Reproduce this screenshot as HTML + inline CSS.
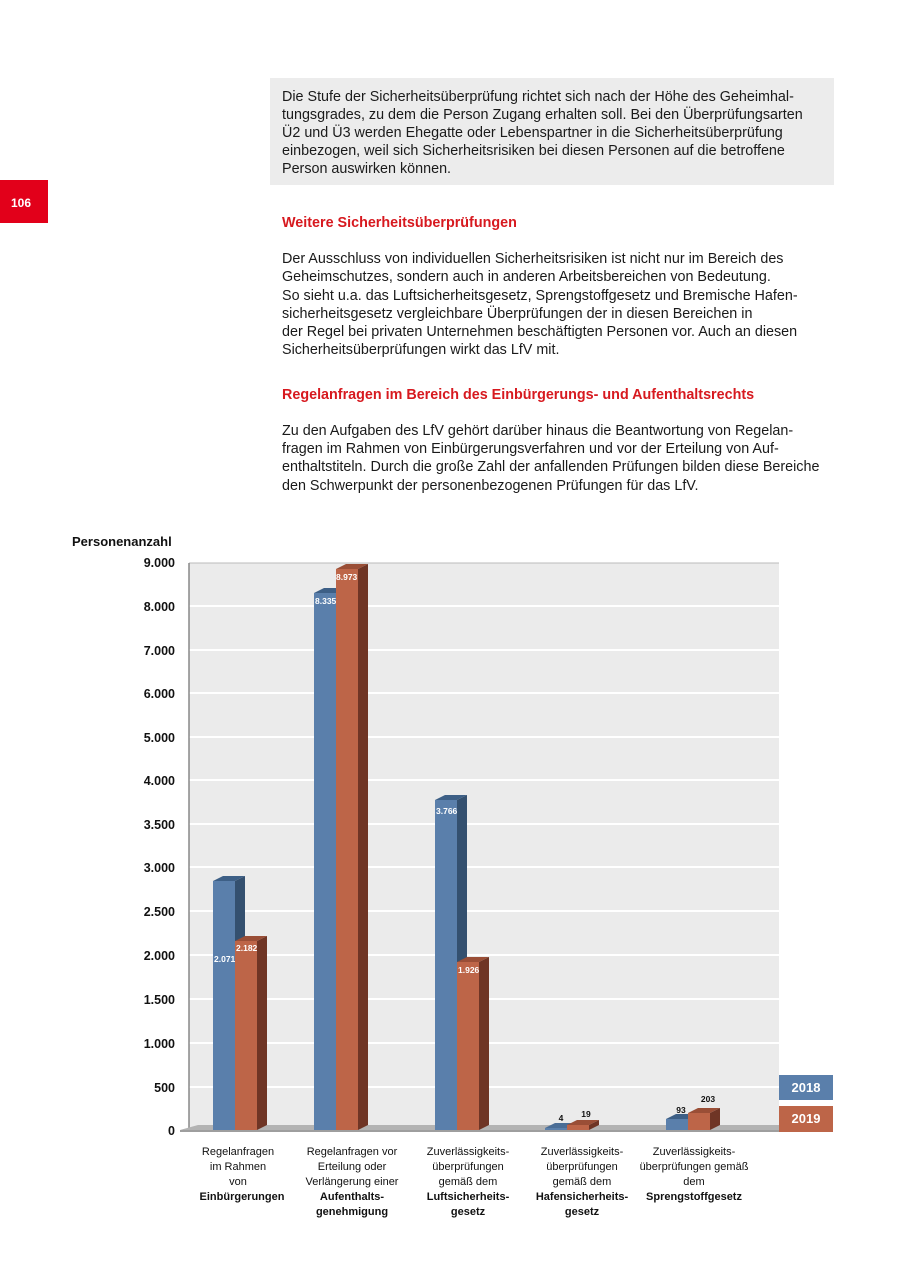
<!DOCTYPE html>
<html><head><meta charset="utf-8"><style>
html,body{margin:0;padding:0;background:#fff;width:900px;height:1272px;overflow:hidden}
svg{display:block;font-family:"Liberation Sans",Arial,sans-serif}
</style></head><body>
<svg width="900" height="1272" viewBox="0 0 900 1272" xmlns="http://www.w3.org/2000/svg">
<rect x="270" y="78" width="564" height="107" fill="#ececec"/>
<g font-size="14.35" fill="#1a1a1a">
<text x="282" y="101">Die Stufe der Sicherheitsüberprüfung richtet sich nach der Höhe des Geheimhal-</text>
<text x="282" y="119">tungsgrades, zu dem die Person Zugang erhalten soll. Bei den Überprüfungsarten</text>
<text x="282" y="137">Ü2 und Ü3 werden Ehegatte oder Lebenspartner in die Sicherheitsüberprüfung</text>
<text x="282" y="155">einbezogen, weil sich Sicherheitsrisiken bei diesen Personen auf die betroffene</text>
<text x="282" y="173">Person auswirken können.</text>
</g>
<rect x="0" y="180" width="48" height="43" fill="#e2001a"/>
<text x="21" y="207" font-size="12" font-weight="bold" fill="#fff" text-anchor="middle">106</text>
<text x="282" y="227" font-size="14.35" font-weight="bold" fill="#d7191f">Weitere Sicherheitsüberprüfungen</text>
<g font-size="14.35" fill="#1a1a1a">
<text x="282" y="263">Der Ausschluss von individuellen Sicherheitsrisiken ist nicht nur im Bereich des</text>
<text x="282" y="281">Geheimschutzes, sondern auch in anderen Arbeitsbereichen von Bedeutung.</text>
<text x="282" y="300">So sieht u.a. das Luftsicherheitsgesetz, Sprengstoffgesetz und Bremische Hafen-</text>
<text x="282" y="318">sicherheitsgesetz vergleichbare Überprüfungen der in diesen Bereichen in</text>
<text x="282" y="336">der Regel bei privaten Unternehmen beschäftigten Personen vor. Auch an diesen</text>
<text x="282" y="354">Sicherheitsüberprüfungen wirkt das LfV mit.</text>
</g>
<text x="282" y="399" font-size="14.35" font-weight="bold" fill="#d7191f">Regelanfragen im Bereich des Einbürgerungs- und Aufenthaltsrechts</text>
<g font-size="14.35" fill="#1a1a1a">
<text x="282" y="435">Zu den Aufgaben des LfV gehört darüber hinaus die Beantwortung von Regelan-</text>
<text x="282" y="453">fragen im Rahmen von Einbürgerungsverfahren und vor der Erteilung von Auf-</text>
<text x="282" y="471">enthaltstiteln. Durch die große Zahl der anfallenden Prüfungen bilden diese Bereiche</text>
<text x="282" y="490">den Schwerpunkt der personenbezogenen Prüfungen für das LfV.</text>
</g>

<text x="72" y="546" font-size="13" font-weight="bold" fill="#111">Personenanzahl</text>
<rect x="189" y="563" width="590" height="567" fill="#ebebeb"/>
<g stroke="#fff" stroke-width="2">
<line x1="189" x2="779" y1="606" y2="606"/><line x1="189" x2="779" y1="650" y2="650"/>
<line x1="189" x2="779" y1="693" y2="693"/><line x1="189" x2="779" y1="737" y2="737"/>
<line x1="189" x2="779" y1="780" y2="780"/><line x1="189" x2="779" y1="824" y2="824"/>
<line x1="189" x2="779" y1="867" y2="867"/><line x1="189" x2="779" y1="911" y2="911"/>
<line x1="189" x2="779" y1="955" y2="955"/><line x1="189" x2="779" y1="999" y2="999"/>
<line x1="189" x2="779" y1="1043" y2="1043"/><line x1="189" x2="779" y1="1087" y2="1087"/>
</g>
<line x1="189" y1="563" x2="779" y2="563" stroke="#bbb"/>
<line x1="189" y1="563" x2="189" y2="1131" stroke="#888" stroke-width="1.5"/>
<g font-size="12.5" font-weight="bold" fill="#111" text-anchor="end">
<text x="175" y="567">9.000</text><text x="175" y="611">8.000</text><text x="175" y="655">7.000</text>
<text x="175" y="698">6.000</text><text x="175" y="742">5.000</text><text x="175" y="785">4.000</text>
<text x="175" y="829">3.500</text><text x="175" y="872">3.000</text><text x="175" y="916">2.500</text>
<text x="175" y="960">2.000</text><text x="175" y="1004">1.500</text><text x="175" y="1048">1.000</text>
<text x="175" y="1092">500</text><text x="175" y="1135">0</text>
</g>
<polygon points="180,1130 198,1125 833,1125 833,1132 180,1132" fill="#b3b3b3"/>
<line x1="180" y1="1131" x2="779" y2="1131" stroke="#888"/>
<g>
<polygon points="213,881 223,876 245,876 235,881" fill="#3d5f86"/><polygon points="235,881 245,876 245,1125 235,1130" fill="#34506f"/><rect x="213" y="881" width="22" height="249" fill="#5a7fab"/>
<polygon points="235,941 245,936 267,936 257,941" fill="#9a4e36"/><polygon points="257,941 267,936 267,1125 257,1130" fill="#6f3525"/><rect x="235" y="941" width="22" height="189" fill="#bd6548"/>
<polygon points="314,593 324,588 346,588 336,593" fill="#3d5f86"/><polygon points="336,593 346,588 346,1125 336,1130" fill="#34506f"/><rect x="314" y="593" width="22" height="537" fill="#5a7fab"/>
<polygon points="336,569 346,564 368,564 358,569" fill="#9a4e36"/><polygon points="358,569 368,564 368,1125 358,1130" fill="#6f3525"/><rect x="336" y="569" width="22" height="561" fill="#bd6548"/>
<polygon points="435,800 445,795 467,795 457,800" fill="#3d5f86"/><polygon points="457,800 467,795 467,1125 457,1130" fill="#34506f"/><rect x="435" y="800" width="22" height="330" fill="#5a7fab"/>
<polygon points="457,962 467,957 489,957 479,962" fill="#9a4e36"/><polygon points="479,962 489,957 489,1125 479,1130" fill="#6f3525"/><rect x="457" y="962" width="22" height="168" fill="#bd6548"/>
<polygon points="545,1128 555,1123 577,1123 567,1128" fill="#4a6d96"/><rect x="545" y="1128" width="22" height="2" fill="#5a7fab"/>
<polygon points="567,1125 577,1120 599,1120 589,1125" fill="#9a4e36"/><polygon points="589,1125 599,1120 599,1125 589,1130" fill="#6f3525"/><rect x="567" y="1125" width="22" height="5" fill="#bd6548"/>
<polygon points="666,1119 676,1114 698,1114 688,1119" fill="#3d5f86"/><rect x="666" y="1119" width="22" height="11" fill="#5a7fab"/>
<polygon points="688,1113 698,1108 720,1108 710,1113" fill="#9a4e36"/><polygon points="710,1113 720,1108 720,1125 710,1130" fill="#6f3525"/><rect x="688" y="1113" width="22" height="17" fill="#bd6548"/>
</g>
<g font-size="8.5" font-weight="bold" fill="#fff">
<text x="214" y="962">2.071</text><text x="236" y="951">2.182</text>
<text x="315" y="604">8.335</text><text x="336" y="580">8.973</text>
<text x="436" y="814">3.766</text><text x="458" y="973">1.926</text>
</g>
<g font-size="8.5" font-weight="bold" fill="#111" text-anchor="middle">
<text x="561" y="1121">4</text><text x="586" y="1117">19</text>
<text x="681" y="1113">93</text><text x="708" y="1102">203</text>
</g>
<rect x="779" y="1075" width="54" height="25" fill="#5a7fab"/>
<rect x="779" y="1106" width="54" height="26" fill="#bd6548"/>
<text x="806" y="1092" font-size="13" font-weight="bold" fill="#fff" text-anchor="middle">2018</text>
<text x="806" y="1123" font-size="13" font-weight="bold" fill="#fff" text-anchor="middle">2019</text>
<g font-size="11" fill="#111" text-anchor="middle">
<text x="238" y="1155">Regelanfragen</text><text x="238" y="1170">im Rahmen</text><text x="238" y="1185">von</text><text x="242" y="1200" font-weight="bold">Einbürgerungen</text>
<text x="352" y="1155">Regelanfragen vor</text><text x="352" y="1170">Erteilung oder</text><text x="352" y="1185">Verlängerung einer</text><text x="352" y="1200" font-weight="bold">Aufenthalts-</text><text x="352" y="1215" font-weight="bold">genehmigung</text>
<text x="468" y="1155">Zuverlässigkeits-</text><text x="468" y="1170">überprüfungen</text><text x="468" y="1185">gemäß dem</text><text x="468" y="1200" font-weight="bold">Luftsicherheits-</text><text x="468" y="1215" font-weight="bold">gesetz</text>
<text x="582" y="1155">Zuverlässigkeits-</text><text x="582" y="1170">überprüfungen</text><text x="582" y="1185">gemäß dem</text><text x="582" y="1200" font-weight="bold">Hafensicherheits-</text><text x="582" y="1215" font-weight="bold">gesetz</text>
<text x="694" y="1155">Zuverlässigkeits-</text><text x="694" y="1170">überprüfungen gemäß</text><text x="694" y="1185">dem</text><text x="694" y="1200" font-weight="bold">Sprengstoffgesetz</text>
</g>
</svg>
</body></html>
